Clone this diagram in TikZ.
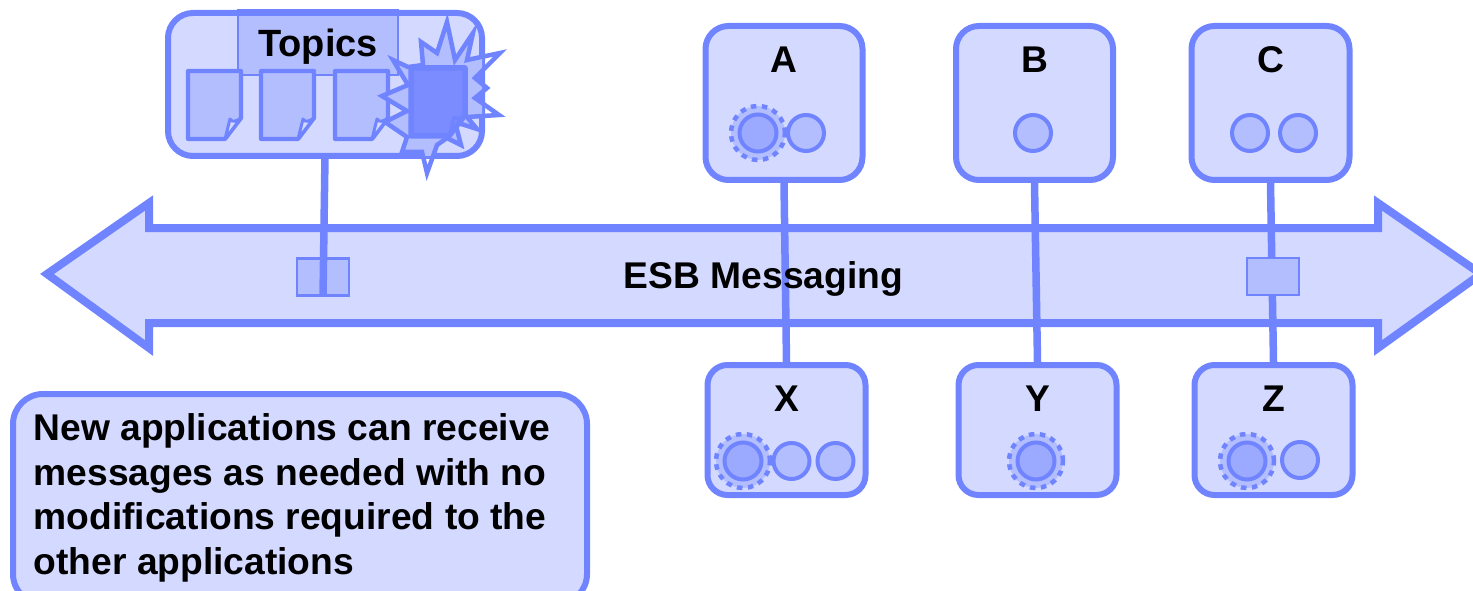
\documentclass[tikz,border=0pt]{standalone}
\usepackage{fontspec}
\setmainfont{Liberation Sans}
\definecolor{edgeblue}{HTML}{7084FF}
\definecolor{paleblue}{HTML}{D3D9FF}
\definecolor{midblue}{HTML}{B3BEFF}
\definecolor{deepblue}{HTML}{9BA9FF}
\definecolor{strongblue}{HTML}{7A8CFF}
\tikzset{
  lbl/.style={font=\fontsize{37.2}{44.6}\selectfont\bfseries,text=black,inner sep=0pt},
  appbox/.style={draw=edgeblue,fill=paleblue,line width=6pt,rounded corners=23pt,minimum width=#1,inner sep=0pt},
  tallbox/.style={appbox=157pt,minimum height=154pt},
  lowbox/.style={appbox=158pt,minimum height=130pt,rounded corners=20pt},
  wire/.style={draw=edgeblue,line width=7.5pt},
  port/.style={circle,draw=edgeblue,fill=midblue,line width=4pt,minimum size=36pt,inner sep=0pt},
  hot/.style={circle,draw=edgeblue,fill=deepblue,line width=4pt,minimum size=37pt,inner sep=0pt},
  halo/.style={circle,draw=edgeblue,fill=midblue,line width=4.5pt,dash pattern=on 5.5pt off 5.5pt,minimum size=54pt,inner sep=0pt},
  tapbox/.style={draw=edgeblue,fill=midblue,line width=2.5pt,minimum width=52pt,minimum height=37pt,inner sep=0pt},
  pagefill/.style={draw=edgeblue,fill=midblue,line width=4.2pt,line join=round},
  pics/docpage/.style={code={
    \path[pagefill] (0,0) -- (53,0) -- (53,47) -- (37,68) -- (0,68) -- cycle;
    \path[pagefill,fill=paleblue,line width=3pt] (37,68) -- (42,48) .. controls (44,52) and (49,50) .. (53,47) -- cycle;
  }},
}
\def\burstpath{(447,22) -- (455,60) -- (473,33) -- (467,60) -- (500,53) -- (475,78) -- (487,88) -- (475,98)
  -- (499,115) -- (467,117) -- (477,129) -- (455,122) -- (461,145) -- (447,138) -- (437,145)
  -- (427,173) -- (422,152) -- (402,152) -- (407,137) -- (385,122) -- (407,111) -- (382,96)
  -- (408,85) -- (393,60) -- (408,67) -- (423,65) -- (421,42) -- (437,53) -- cycle}
\begin{document}
\begin{tikzpicture}[x=1pt,y=-1pt]
\useasboundingbox (0,0) rectangle (1473,591);
\clip (0,0) rectangle (1473,591);
% bus arrow
\draw[draw=edgeblue,fill=paleblue,line width=8pt,miter limit=10]
  (47,274) -- (149,203) -- (149,228) -- (1378,228) -- (1378,203) -- (1481,274)
  -- (1378,348) -- (1378,323) -- (149,323) -- (149,348) -- cycle;
% topics container
\node[draw=none,fill=paleblue,rounded corners=25pt,minimum width=314pt,minimum height=143pt,inner sep=0pt] (topics) at (325,84.5) {};
\node[draw=edgeblue,fill=midblue,line width=1.5pt,minimum width=160pt,minimum height=65pt,inner sep=0pt] (tab) at (318,42.5) {};
\draw[edgeblue,line width=6pt,rounded corners=25pt] (168,13) rectangle (482,156);
\node[lbl,font=\fontsize{38}{44.6}\selectfont\bfseries] (topicslabel) at (318,46.5) {Topics};
\pic at (188,71) {docpage};
\pic at (261,71) {docpage};
\pic at (335,71) {docpage};
\begin{scope}
  \clip[rounded corners=25pt] (168,13) rectangle (482,156);
  \fill[midblue] \burstpath;
\end{scope}
\draw[draw=edgeblue,line width=4.5pt,miter limit=10] \burstpath;
\path[draw=edgeblue,fill=strongblue,line width=5.5pt,line join=round]
  (411,68) -- (465,68) -- (465,115) -- (449,136) -- (411,136) -- cycle;
\path[draw=edgeblue,line width=3pt,line join=round] (449,136) -- (454,117) .. controls (456,120) and (461,118) .. (465,115);
% applications
\node[tallbox] (a) at (784,103) {};
\node[tallbox] (b) at (1034.5,103) {};
\node[tallbox,appbox=158pt] (c) at (1270.5,103) {};
\node[lowbox] (x) at (786.5,430) {};
\node[lowbox] (y) at (1037.5,430) {};
\node[lowbox] (z) at (1273.5,430) {};
\node[lbl] (la) at (784,60) {A};
\node[lbl] (lb) at (1034.5,60) {B};
\node[lbl] (lc) at (1270.5,60) {C};
\node[lbl] (lx) at (786.5,399) {X};
\node[lbl] (ly) at (1037.5,399) {Y};
\node[lbl] (lz) at (1273.5,399) {Z};
% ports
\node[halo] (ha) at (758,133) {};
\node[hot] (pa1) at (758,133) {};
\node[port] (pa2) at (806,133) {};
\node[port] (pb) at (1033,133) {};
\node[port] (pc1) at (1250,133) {};
\node[port] (pc2) at (1298,133) {};
\node[halo] (hx) at (743,461) {};
\node[hot] (px1) at (743,461) {};
\node[port] (px2) at (791.5,461) {};
\node[port] (px3) at (835.5,461) {};
\node[halo] (hy) at (1036,461) {};
\node[hot] (py) at (1036,461) {};
\node[halo] (hz) at (1247,461) {};
\node[hot] (pz1) at (1247,461) {};
\node[port] (pz2) at (1300,460) {};
% connectors and taps
\node[tapbox] (tapl) at (323,277) {};
\draw[wire] (a.south) -- (x.north);
\draw[wire] (b.south) -- (y.north);
\draw[wire] (c.south) -- (z.north);
\draw[wire] (topics.south) -- (tapl.south);
\node[tapbox] (tapr) at (1273,276.5) {};
\node[lbl] (bus) at (763.5,279) {ESB Messaging};
% callout
\node[draw=edgeblue,fill=paleblue,line width=6pt,rounded corners=30pt,minimum width=574pt,minimum height=210pt,inner sep=0pt] (note) at (300,499) {};
\node[lbl,anchor=north west,align=left] (notetext) at (33.5,413.5) {New applications can receive\\messages as needed with no\\modifications required to the\\other applications};
\end{tikzpicture}
\end{document}
